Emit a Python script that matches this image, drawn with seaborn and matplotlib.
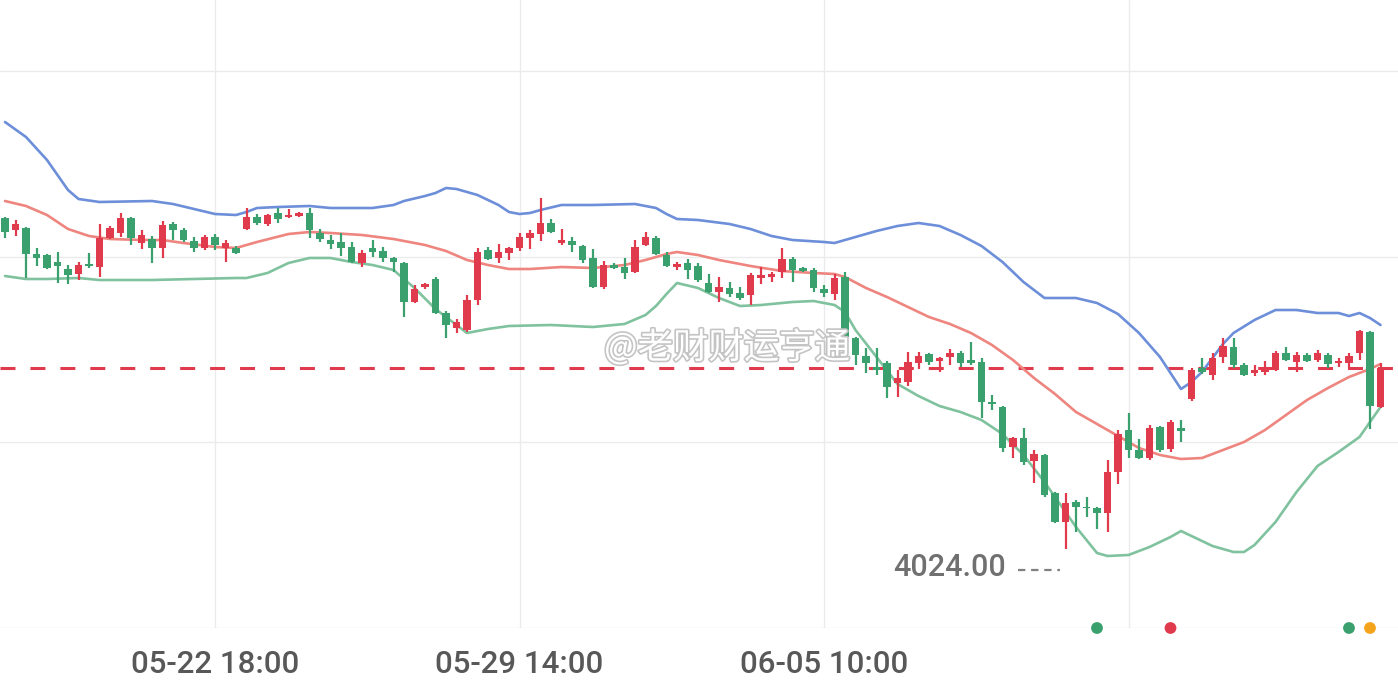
import matplotlib
matplotlib.use("Agg")
import matplotlib.pyplot as plt
import matplotlib.patheffects as pe
from matplotlib.transforms import offset_copy
import seaborn as sns
import pandas as pd

# ---------------- data ----------------
opens = [4189.5, 4183.5, 4184.5, 4171.5, 4171.0, 4167.5, 4164.0, 4161.5, 4166.5, 4165.0,
         4179.5, 4182.0, 4189.5, 4177.0, 4179.0, 4174.5, 4186.5, 4183.5, 4178.0, 4174.5,
         4180.0, 4174.5, 4174.5, 4184.0, 4190.0, 4186.5, 4192.0, 4190.0, 4190.5, 4192.0,
         4182.0, 4178.5, 4177.5, 4175.0, 4167.0, 4174.5, 4173.0, 4169.5, 4167.0, 4147.5,
         4155.0, 4159.0, 4142.0, 4134.5, 4133.5, 4148.5, 4173.5, 4169.5, 4172.0, 4174.5,
         4179.5, 4181.5, 4187.0, 4177.0, 4178.0, 4175.5, 4169.5, 4155.0, 4166.0, 4165.0,
         4162.5, 4176.0, 4179.5, 4171.0, 4165.0, 4167.0, 4165.5, 4157.0, 4152.5, 4154.5,
         4152.0, 4151.0, 4159.5, 4160.0, 4162.5, 4169.0, 4164.5, 4163.5, 4154.0, 4151.5,
         4160.0, 4129.5, 4120.5, 4115.0, 4117.0, 4107.0, 4107.5, 4117.0, 4121.5, 4118.0,
         4120.0, 4122.0, 4118.5, 4117.5, 4097.5, 4095.0, 4075.0, 4079.5, 4068.0, 4071.0,
         4052.0, 4037.5, 4047.5, 4045.0, 4044.5, 4042.0, 4062.5, 4083.5, 4073.5, 4069.5,
         4085.0, 4074.0, 4084.5, 4099.0, 4114.5, 4111.0, 4120.0, 4125.0, 4116.0, 4112.0,
         4112.5, 4113.5, 4122.0, 4117.5, 4121.0, 4118.5, 4121.0, 4117.0, 4117.0, 4122.0,
         4132.5, 4095.0]
highs = [4190.0, 4188.5, 4185.0, 4174.5, 4171.5, 4172.5, 4166.0, 4167.5, 4172.0, 4186.5,
         4185.5, 4192.0, 4190.0, 4183.5, 4180.5, 4188.0, 4187.5, 4184.5, 4180.0, 4181.0,
         4181.5, 4178.5, 4175.5, 4194.5, 4191.5, 4191.5, 4194.5, 4194.0, 4192.5, 4194.5,
         4184.0, 4181.0, 4182.0, 4177.5, 4173.5, 4178.5, 4175.0, 4170.0, 4167.5, 4156.0,
         4157.0, 4160.0, 4143.0, 4139.0, 4151.0, 4174.5, 4175.0, 4176.5, 4175.0, 4182.0,
         4183.5, 4199.5, 4189.0, 4184.0, 4180.0, 4176.0, 4174.0, 4168.0, 4167.0, 4169.5,
         4178.5, 4182.5, 4180.5, 4172.5, 4167.5, 4169.0, 4167.0, 4161.5, 4160.0, 4157.5,
         4155.0, 4162.0, 4165.0, 4162.5, 4174.5, 4170.0, 4165.0, 4164.5, 4156.0, 4161.5,
         4162.5, 4130.0, 4124.5, 4124.5, 4118.0, 4113.5, 4122.5, 4122.5, 4122.0, 4120.0,
         4124.0, 4123.0, 4127.5, 4119.5, 4101.0, 4095.5, 4080.0, 4084.5, 4073.5, 4071.5,
         4052.5, 4052.0, 4048.5, 4050.0, 4045.0, 4068.5, 4083.5, 4092.0, 4079.0, 4086.0,
         4085.5, 4088.5, 4088.5, 4114.5, 4119.5, 4122.0, 4129.5, 4129.5, 4117.0, 4116.0,
         4118.0, 4123.0, 4125.0, 4122.5, 4122.0, 4123.5, 4122.0, 4119.5, 4122.0, 4133.5,
         4133.0, 4117.0]
lows = [4179.5, 4180.5, 4159.5, 4165.5, 4164.0, 4157.0, 4156.5, 4158.5, 4164.5, 4160.0,
        4179.0, 4180.0, 4176.0, 4174.0, 4167.0, 4169.5, 4178.5, 4177.5, 4172.5, 4173.5,
        4173.5, 4167.5, 4171.5, 4183.5, 4186.0, 4185.5, 4187.0, 4189.5, 4190.0, 4179.5,
        4177.5, 4174.0, 4170.5, 4167.0, 4165.0, 4170.0, 4167.5, 4162.5, 4140.0, 4147.0,
        4154.0, 4141.5, 4129.5, 4132.0, 4132.5, 4146.0, 4168.5, 4167.0, 4168.5, 4173.0,
        4174.0, 4178.0, 4182.0, 4176.0, 4172.5, 4167.0, 4154.5, 4154.0, 4164.0, 4159.0,
        4162.0, 4175.5, 4171.0, 4165.0, 4163.5, 4159.0, 4157.5, 4152.0, 4147.5, 4150.0,
        4148.5, 4146.0, 4156.5, 4157.5, 4159.5, 4157.5, 4162.5, 4152.5, 4150.0, 4148.5,
        4129.5, 4116.0, 4112.0, 4111.0, 4099.5, 4100.0, 4105.5, 4114.0, 4116.0, 4112.5,
        4116.0, 4115.0, 4116.0, 4089.5, 4093.5, 4072.5, 4069.5, 4066.0, 4057.0, 4050.0,
        4037.0, 4024.0, 4032.5, 4040.0, 4034.0, 4032.5, 4056.5, 4069.5, 4069.0, 4068.5,
        4072.5, 4072.5, 4077.5, 4098.0, 4111.5, 4108.5, 4117.0, 4114.5, 4110.5, 4110.5,
        4111.0, 4113.0, 4118.0, 4112.5, 4117.5, 4117.5, 4114.5, 4115.0, 4114.5, 4118.5,
        4084.0, 4094.5]
closes = [4182.5, 4186.5, 4171.5, 4169.5, 4164.5, 4165.5, 4161.0, 4166.0, 4165.5, 4179.5,
          4184.5, 4189.5, 4179.5, 4181.0, 4174.5, 4186.0, 4183.5, 4178.5, 4174.5, 4180.0,
          4176.0, 4177.0, 4172.0, 4190.0, 4187.0, 4191.0, 4189.0, 4191.0, 4192.0, 4183.5,
          4179.0, 4176.5, 4174.5, 4167.5, 4172.0, 4172.5, 4169.5, 4167.5, 4147.5, 4154.0,
          4156.5, 4142.0, 4136.0, 4137.5, 4148.5, 4172.5, 4169.0, 4172.5, 4174.5, 4180.0,
          4182.0, 4187.0, 4182.5, 4178.5, 4176.0, 4168.5, 4155.0, 4166.0, 4164.5, 4162.0,
          4175.0, 4180.0, 4171.5, 4165.5, 4166.5, 4163.5, 4158.5, 4152.5, 4155.0, 4151.5,
          4149.5, 4161.0, 4161.0, 4161.5, 4169.0, 4163.5, 4163.0, 4154.5, 4152.0, 4159.5,
          4130.0, 4121.0, 4117.0, 4113.5, 4105.0, 4109.5, 4117.5, 4120.5, 4117.5, 4119.5,
          4122.0, 4117.0, 4117.0, 4097.5, 4096.5, 4074.5, 4079.5, 4067.5, 4071.5, 4051.0,
          4037.5, 4047.0, 4045.0, 4044.5, 4042.0, 4062.5, 4081.5, 4073.5, 4069.5, 4084.5,
          4073.5, 4087.5, 4083.0, 4113.5, 4112.5, 4119.5, 4125.5, 4116.0, 4111.0, 4113.5,
          4114.5, 4122.0, 4118.5, 4121.0, 4118.0, 4122.0, 4116.5, 4118.0, 4120.5, 4133.0,
          4095.5, 4114.5]

upper_idx = [0, 2, 4, 6, 7, 9, 14, 16, 18, 20, 22, 23, 24, 26, 29, 31, 35, 37, 38, 40,
             41, 42, 43, 45, 47, 48, 49, 50, 51, 53, 56, 60, 62, 63, 64, 66, 69, 71, 73, 75,
             78, 79, 80, 81, 83, 85, 87, 89, 91, 93, 95, 97, 99, 100, 102, 104, 106, 108, 110, 112,
             113, 114, 115, 116, 117, 119, 121, 123, 125, 127, 128, 129, 130, 131]
upper_val = [4237.5, 4230.0, 4218.5, 4203.5, 4199.0, 4197.5, 4198.0, 4196.5, 4194.0, 4191.5,
             4191.0, 4192.5, 4194.5, 4195.0, 4195.5, 4194.5, 4194.5, 4196.0, 4198.0, 4200.5,
             4202.0, 4204.5, 4204.0, 4201.0, 4196.0, 4192.5, 4191.5, 4192.0, 4193.5, 4196.0,
             4196.0, 4196.5, 4194.5, 4191.5, 4189.0, 4188.5, 4186.5, 4184.0, 4180.5, 4178.5,
             4177.5, 4177.0, 4178.5, 4180.0, 4183.0, 4185.5, 4187.0, 4185.5, 4181.0, 4175.5,
             4167.5, 4157.5, 4149.5, 4149.5, 4149.5, 4147.0, 4141.5, 4132.0, 4120.0, 4104.0,
             4107.5, 4112.5, 4119.5, 4126.5, 4132.0, 4138.5, 4143.5, 4143.5, 4142.0, 4142.0,
             4140.5, 4142.0, 4139.5, 4136.0]

mid_idx = [0, 2, 4, 6, 8, 10, 13, 15, 17, 20, 22, 24, 27, 29, 31, 34, 37, 40, 42, 44,
           46, 48, 50, 53, 56, 59, 61, 63, 64, 66, 68, 71, 74, 77, 79, 80, 82, 84, 86, 88,
           90, 92, 94, 96, 98, 100, 102, 104, 106, 108, 110, 112, 114, 116, 118, 120, 122, 124, 126, 128,
           130, 131]
mid_val = [4198.0, 4195.5, 4191.0, 4184.0, 4180.5, 4179.0, 4178.5, 4178.5, 4177.0, 4175.0,
           4174.5, 4177.5, 4181.5, 4182.5, 4182.0, 4181.0, 4179.0, 4176.0, 4173.0, 4168.5,
           4166.0, 4164.0, 4164.0, 4165.0, 4164.5, 4166.0, 4168.5, 4171.5, 4172.5, 4171.0,
           4168.5, 4165.5, 4163.0, 4162.0, 4161.5, 4160.0, 4154.5, 4150.0, 4145.0, 4140.0,
           4136.5, 4132.0, 4126.0, 4118.5, 4109.5, 4101.5, 4092.5, 4086.5, 4080.5, 4074.5,
           4071.0, 4069.0, 4069.5, 4073.5, 4077.5, 4083.5, 4091.0, 4098.5, 4104.5, 4110.0,
           4114.0, 4116.5]

lower_idx = [0, 2, 4, 7, 9, 14, 18, 22, 23, 25, 27, 29, 31, 33, 35, 37, 39, 41, 43, 44,
             46, 48, 52, 56, 59, 61, 62, 63, 64, 66, 68, 70, 72, 75, 77, 79, 80, 81, 83, 85,
             87, 89, 91, 93, 95, 97, 99, 101, 102, 104, 105, 107, 109, 111, 112, 113, 115, 117, 118, 119,
             121, 123, 125, 127, 129, 130, 131]
lower_val = [4160.5, 4159.0, 4159.0, 4159.5, 4158.5, 4158.5, 4159.0, 4159.5, 4159.5, 4162.0,
             4167.0, 4169.5, 4169.5, 4167.5, 4166.0, 4163.5, 4154.5, 4144.0, 4136.0, 4132.0,
             4134.0, 4135.5, 4136.0, 4135.0, 4136.5, 4141.0, 4145.5, 4151.5, 4157.0, 4154.5,
             4149.5, 4145.5, 4146.0, 4147.5, 4148.0, 4146.0, 4142.5, 4133.5, 4120.0, 4106.5,
             4100.5, 4095.5, 4092.5, 4088.5, 4081.5, 4071.0, 4057.5, 4042.5, 4035.0, 4022.0,
             4020.5, 4021.0, 4025.0, 4030.0, 4033.0, 4030.5, 4025.5, 4022.5, 4022.5, 4026.0,
             4037.5, 4052.5, 4065.5, 4072.5, 4080.0, 4087.5, 4095.0]

x_tick_idx = [20, 49, 78, 107]
x_tick_labels = ["05-22 18:00", "05-29 14:00", "06-05 10:00", ""]
y_grid = [4263.0, 4170.25, 4077.5, 3984.75]

low_label = "4024.00"
low_index = 101

marker_idx = [104, 111, 128, 130]
marker_colors = ["#3aa06e", "#e03a4d", "#3aa06e", "#f4a41c"]

watermark = "@老财财运亨通"

# ---------------- style ----------------
RED = "#e03a4d"
GREEN = "#3aa06e"

sns.set_theme(style="white")
plt.rcParams["font.family"] = ["Roboto", "DejaVu Sans"]

fig = plt.figure(figsize=(13.98, 6.86), dpi=100)
ax = fig.add_axes([0, 58 / 686, 1, 628 / 686])

n = len(opens)
idx = list(range(n))
cols = [RED if c >= o else GREEN for o, c in zip(opens, closes)]

# grid
for g in y_grid:
    ax.axhline(g, color="#ebebeb", lw=1.0, zorder=0)
for t in x_tick_idx:
    ax.axvline(t, color="#ebebeb", lw=1.0, zorder=0)

# last price dashed line
ax.axhline(closes[-1], color=RED, lw=2.2, dashes=(4.9, 4.9), zorder=1)

# Bollinger bands
df_u = pd.DataFrame({"i": upper_idx, "v": upper_val})
df_m = pd.DataFrame({"i": mid_idx, "v": mid_val})
df_l = pd.DataFrame({"i": lower_idx, "v": lower_val})
sns.lineplot(data=df_u, x="i", y="v", ax=ax, color="#6d8fd9", lw=1.9, estimator=None, zorder=2)
sns.lineplot(data=df_m, x="i", y="v", ax=ax, color="#ee857f", lw=1.9, estimator=None, zorder=2)
sns.lineplot(data=df_l, x="i", y="v", ax=ax, color="#7fc29d", lw=1.9, estimator=None, zorder=2)

# candles
ax.vlines(idx, lows, highs, colors=cols, lw=1.6, zorder=3)
bottoms = [min(o, c) for o, c in zip(opens, closes)]
heights = [max(abs(c - o), 0.7) for o, c in zip(opens, closes)]
ax.bar(idx, heights, bottom=bottoms, width=0.68, color=cols, linewidth=0, zorder=4)

# low label with short dashed leader
ax.annotate(low_label, xy=(low_index, lows[low_index]), xytext=(-60, -19),
            textcoords="offset pixels", ha="right", va="center",
            fontsize=22, color="#707070", fontweight="medium", zorder=5)
lead_tr = offset_copy(ax.transData, fig=fig, x=0, y=-21, units="dots")
ax.plot([low_index - 4.5, low_index - 0.5], [lows[low_index]] * 2, transform=lead_tr,
        color="#808080", lw=1.6, dashes=(3.3, 2.6), zorder=5)

# markers on the bottom axis line
ax.scatter(marker_idx, [0] * len(marker_idx), c=marker_colors, s=72,
           transform=ax.get_xaxis_transform(), clip_on=False, zorder=6, linewidths=0)

# watermark
ax.text(0.52, 0.446, watermark, transform=ax.transAxes, ha="center", va="center",
        fontsize=25.5, color="white", family=["Noto Sans CJK SC", "DejaVu Sans"],
        path_effects=[pe.withStroke(linewidth=2.4, foreground="#c4c4c4")], zorder=7)

ax.set_xlim(-5 / 10.5, 1393 / 10.5)
ax.set_ylim(3984.5, 4298.5)
ax.set_xticks(x_tick_idx)
ax.set_xticklabels(x_tick_labels, fontweight="medium")
ax.set_yticks([])
ax.set_xlabel("")
ax.set_ylabel("")
ax.tick_params(axis="x", length=0, pad=16, labelsize=22.5, labelcolor="#585858")
for s in ax.spines.values():
    s.set_visible(False)
ax.grid(False)

fig.savefig("out.png", dpi=100)
